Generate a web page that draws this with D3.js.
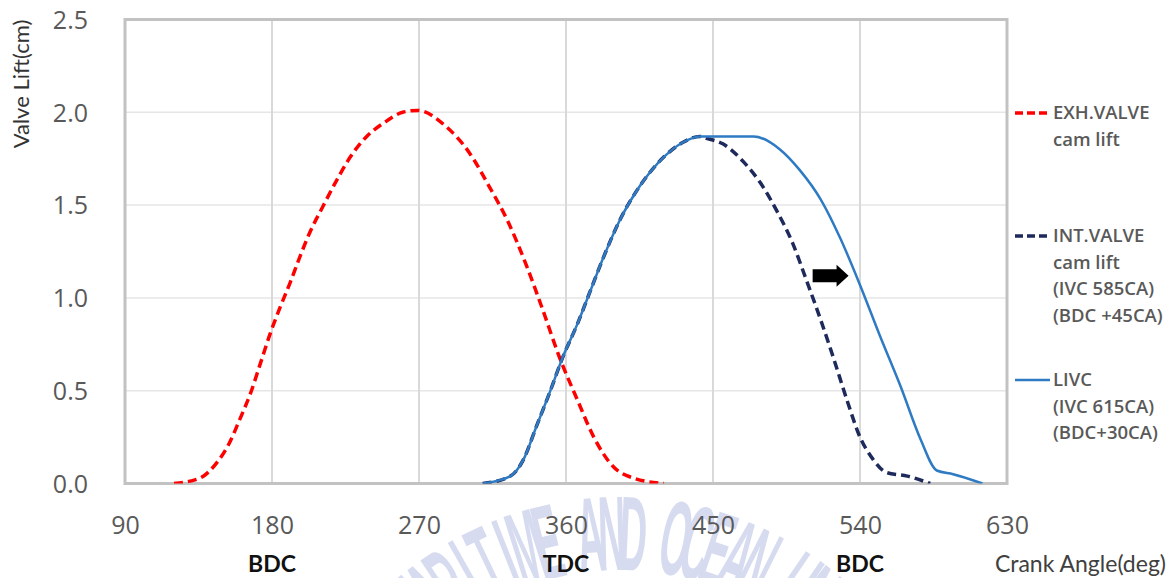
<!DOCTYPE html>
<html>
<head>
<meta charset="utf-8">
<script src="https://cdn.jsdelivr.net/npm/d3@7/dist/d3.min.js"></script>
<style>
  html, body { margin: 0; padding: 0; background: #ffffff; }
  svg { display: block; }
</style>
</head>
<body>
<svg id="chart" width="1172" height="578"></svg>
<script>
// ---------------- data ----------------
const xTicks = [90, 180, 270, 360, 450, 540, 630];
const yTicks = [0, 0.5, 1.0, 1.5, 2.0, 2.5];

const strokeLabels = ["BDC", "TDC", "BDC"];
const strokeAngles = [180, 360, 540];

// Exhaust valve cam lift (red dashed)
const exhAngle = [120, 136, 146, 154, 160, 167, 173, 179, 185, 191, 197, 203, 211, 220, 228, 238, 248, 260, 269,
                  287, 301, 313, 324, 336, 346, 356, 367, 377, 389, 401, 420];
const exhLift  = [0.00, 0.03, 0.11, 0.22, 0.34, 0.49, 0.65, 0.81, 0.95, 1.08, 1.22, 1.35, 1.49, 1.64, 1.76, 1.87, 1.94, 2.00, 2.01,
                  1.92, 1.78, 1.60, 1.42, 1.17, 0.93, 0.68, 0.45, 0.25, 0.09, 0.03, 0.00];

// Intake valve cam lift, IVC 585CA (navy dashed)
const intAngle = [309, 326, 334, 342, 350, 358, 367, 375, 383, 393, 405, 420, 432, 442, 446,
                  456, 469, 479, 489, 499, 507, 516, 524, 532, 540, 548, 556, 569, 583];
const intLift  = [0.00, 0.04, 0.13, 0.31, 0.49, 0.68, 0.86, 1.04, 1.22, 1.42, 1.60, 1.76, 1.84, 1.87, 1.86,
                  1.83, 1.73, 1.62, 1.47, 1.29, 1.10, 0.88, 0.67, 0.45, 0.25, 0.13, 0.06, 0.04, 0.00];

// LIVC, IVC 615CA (blue solid)
const livcAngle = [309, 326, 334, 342, 350, 358, 367, 375, 383, 393, 405, 420, 432, 442, 455, 465, 475,
                   491, 503, 516, 528, 540, 552, 565, 577, 587, 597, 615];
const livcLift  = [0.00, 0.04, 0.13, 0.31, 0.49, 0.68, 0.86, 1.04, 1.22, 1.42, 1.60, 1.76, 1.84, 1.87, 1.87, 1.87, 1.87,
                   1.80, 1.69, 1.53, 1.32, 1.07, 0.80, 0.52, 0.24, 0.07, 0.05, 0.00];

// shift arrow annotation (angle from -> to, at lift)
const arrowFrom = 511, arrowTo = 533, arrowLift = 1.12;

const legendLines = [
  ["EXH.VALVE", "cam lift"],
  ["INT.VALVE", "cam lift", "(IVC 585CA)", "(BDC +45CA)"],
  ["LIVC", "(IVC 615CA)", "(BDC+30CA)"]
];
const legendColors = ["#ff0000", "#1f2a5c", "#2e7bc4"];
const legendDashed = [true, true, false];

const watermarkText = "KOREA MARITIME AND OCEAN UNIVERSITY";

// ---------------- drawing ----------------
const svg = d3.select("#chart");
const pLeft = 125, pRight = 1007, pTop = 19.5, pBottom = 483.5;

const x = d3.scaleLinear().domain([90, 630]).range([pLeft, pRight]);
const y = d3.scaleLinear().domain([0, 2.5]).range([pBottom, pTop]);

// watermark (faint arc text)
const wm = svg.append("g").attr("fill", "#d6dbf0");
const wcx = 620, wcy = 842, wr = 272, step = 4.0, offs = 2.5;
wm.selectAll("text").data(watermarkText.split(""))
  .join("text")
  .attr("transform", (c, i) => {
    const a = (i - 17) * step + offs;
    const rad = a * Math.PI / 180;
    const px = wcx + wr * Math.sin(rad), py = wcy - wr * Math.cos(rad);
    return `translate(${px},${py}) rotate(${a}) scale(0.36,1)`;
  })
  .attr("text-anchor", "middle")
  .attr("font-family", "'Liberation Sans','DejaVu Sans',sans-serif")
  .attr("font-weight", "bold")
  .attr("font-size", 106)
  .text(d => d);

// gridlines
svg.append("g").selectAll("line").data(yTicks.slice(1, -1))
  .join("line")
  .attr("x1", pLeft).attr("x2", pRight)
  .attr("y1", d => y(d)).attr("y2", d => y(d))
  .attr("stroke", "#e6e6e6").attr("stroke-width", 1.5);

svg.append("g").selectAll("line").data(xTicks.slice(1, -1))
  .join("line")
  .attr("x1", d => x(d)).attr("x2", d => x(d))
  .attr("y1", pTop).attr("y2", pBottom)
  .attr("stroke", "#d9d9d9").attr("stroke-width", 2);

// plot border
svg.append("rect")
  .attr("x", pLeft).attr("y", pTop)
  .attr("width", pRight - pLeft).attr("height", pBottom - pTop)
  .attr("fill", "none").attr("stroke", "#c2c2c2").attr("stroke-width", 3);

// axes (labels only)
const fontTick = "'Open Sans', Lato, sans-serif";
const fontMain = "Lato, 'Open Sans', sans-serif";
const yAxis = svg.append("g").attr("transform", `translate(${pLeft},0)`)
  .call(d3.axisLeft(y).tickValues(yTicks).tickFormat(d3.format(".1f")).tickSize(0).tickPadding(37));
yAxis.select(".domain").remove();
yAxis.selectAll("text")
  .attr("font-family", fontTick).attr("font-size", 25).attr("fill", "#595959")
  .attr("dy", "0.35em");

const xAxis = svg.append("g").attr("transform", `translate(0,${pBottom})`)
  .call(d3.axisBottom(x).tickValues(xTicks).tickFormat(d3.format("d")).tickSize(0).tickPadding(0));
xAxis.select(".domain").remove();
xAxis.selectAll("text")
  .attr("font-family", fontTick).attr("font-size", 25).attr("fill", "#595959")
  .attr("y", 41.5).attr("dy", "0.35em");

// stroke position labels
svg.append("g").selectAll("text").data(strokeLabels)
  .join("text")
  .attr("x", (d, i) => x(strokeAngles[i]))
  .attr("y", 564).attr("dy", "0.35em")
  .attr("text-anchor", "middle")
  .attr("font-family", fontMain).attr("font-weight", "bold").attr("font-size", 23)
  .attr("fill", "#111111")
  .text(d => d);

// axis titles
svg.append("text")
  .attr("x", 1166).attr("y", 564).attr("dy", "0.35em")
  .attr("text-anchor", "end")
  .attr("font-family", fontMain).attr("font-size", 23).attr("fill", "#404040")
  .text("Crank Angle(deg)");

svg.append("text")
  .attr("transform", "translate(21,84) rotate(-90)")
  .attr("dy", "0.35em")
  .attr("text-anchor", "middle")
  .attr("font-family", fontMain).attr("font-size", 22).attr("fill", "#333333")
  .text("Valve Lift(cm)");

// curves
const line = d3.line().x(d => x(d[0])).y(d => y(d[1])).curve(d3.curveMonotoneX);
const series = [
  { a: exhAngle, v: exhLift, color: legendColors[0], w: 3.5, dash: "9,5" },
  { a: intAngle, v: intLift, color: legendColors[1], w: 3.5, dash: "9,5" },
  { a: livcAngle, v: livcLift, color: legendColors[2], w: 2.5, dash: null }
];
svg.append("clipPath").attr("id", "plotclip")
  .append("rect").attr("x", pLeft).attr("y", pTop - 10).attr("width", pRight - pLeft).attr("height", pBottom - pTop + 10);
svg.append("g").attr("clip-path", "url(#plotclip)")
  .selectAll("path").data(series)
  .join("path")
  .attr("d", s => line(s.a.map((d, i) => [d, s.v[i]])))
  .attr("fill", "none")
  .attr("stroke", s => s.color)
  .attr("stroke-width", s => s.w)
  .attr("stroke-dasharray", s => s.dash)
  .attr("stroke-linecap", "butt");

// arrow annotation
const ax0 = x(arrowFrom), ax1 = x(arrowTo), ay = y(arrowLift);
const headLen = 12, shaftH = 6.5, headH = 11;
svg.append("path")
  .attr("d", `M${ax0},${ay - shaftH} L${ax1 - headLen},${ay - shaftH} L${ax1 - headLen},${ay - headH}
              L${ax1},${ay} L${ax1 - headLen},${ay + headH} L${ax1 - headLen},${ay + shaftH} L${ax0},${ay + shaftH} Z`)
  .attr("fill", "#000000");

// legend
const legendY0 = [113, 236, 380];
const lg = svg.append("g");
legendLines.forEach((lines, k) => {
  lg.append("line")
    .attr("x1", 1015).attr("x2", 1050)
    .attr("y1", legendY0[k]).attr("y2", legendY0[k])
    .attr("stroke", legendColors[k]).attr("stroke-width", legendDashed[k] ? 3.5 : 2.5)
    .attr("stroke-dasharray", legendDashed[k] ? "8,4" : null);
  lg.append("g").selectAll("text").data(lines)
    .join("text")
    .attr("x", 1053)
    .attr("y", (d, i) => legendY0[k] + i * 26.5)
    .attr("dy", "0.35em")
    .attr("font-family", "'Open Sans', Lato, sans-serif")
    .attr("font-weight", 600)
    .attr("font-size", 18.5)
    .attr("fill", "#595959")
    .text(d => d);
});
</script>
</body>
</html>
